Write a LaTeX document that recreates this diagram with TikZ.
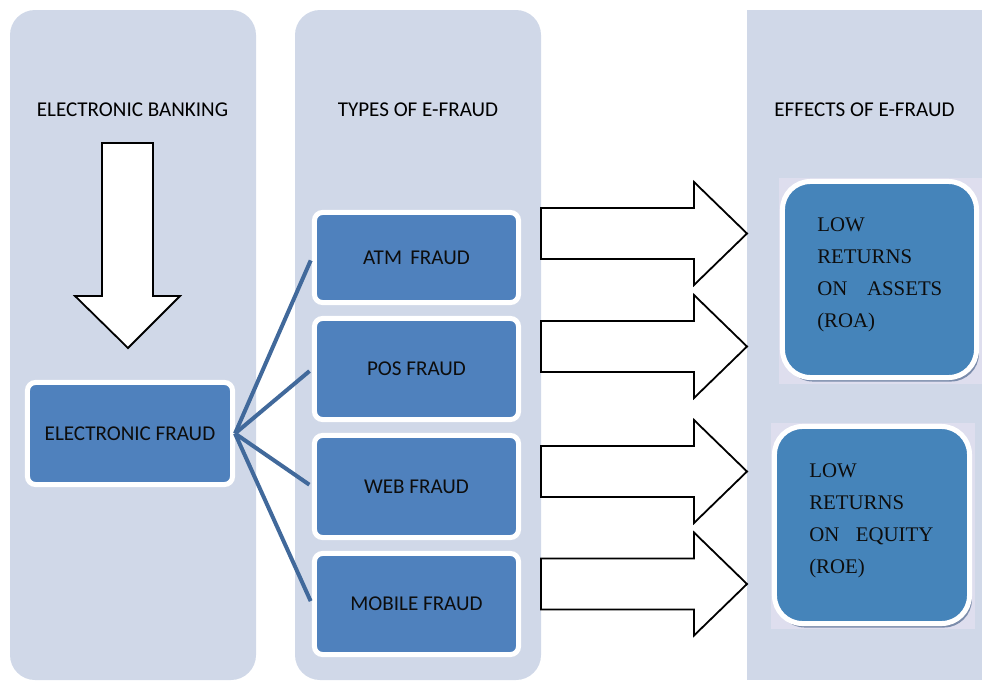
\documentclass[tikz,border=0pt]{standalone}
\usepackage{fontspec}
\setmainfont{Carlito}
\newfontfamily\effectfont{Liberation Serif}
\usetikzlibrary{positioning, shadows}
\definecolor{panel}{HTML}{D0D8E8}
\definecolor{boxblue}{HTML}{4F81BD}
\definecolor{effblue}{HTML}{4584BA}
\definecolor{backing}{HTML}{DEDEEE}
\definecolor{shade}{HTML}{7B8CAB}
\definecolor{linkblue}{HTML}{41699B}

\begin{document}
\begin{tikzpicture}[
  x=0.025cm, y=-0.025cm,
  font=\fontsize{15}{18}\selectfont,
  panelbox/.style={fill=panel, rounded corners=0.625cm},
  fraud/.style={fill=boxblue, draw=white, line width=0.125cm, rounded corners=0.2cm,
    minimum width=5.1cm, anchor=center, text=black!95},
  effect/.style={fill=effblue, draw=white, line width=0.125cm, rounded corners=0.7cm,
    minimum width=4.85cm, minimum height=4.9cm,
    drop shadow={shadow xshift=0.06cm, shadow yshift=-0.1cm, fill=shade, opacity=1}},
  efftext/.style={font=\effectfont\fontsize{14.8}{22.8}\selectfont, align=left,
    inner sep=0pt, anchor=north west, text=black!95},
  blockarrow/.style={draw=black, fill=white, line width=0.045cm},
  link/.style={draw=linkblue, line width=0.1cm, shorten >=0.08cm},
]
\useasboundingbox (0,0) rectangle (982,680);
% Columns
\fill[panelbox] (10,10) rectangle (256,680);
\fill[panelbox] (295,10) rectangle (541,680);
\fill[panel] (747,10) rectangle (982,680);
% Column headers
\node (hbank) at (132.5,110) {ELECTRONIC BANKING};
\node (htypes) at (418,110) {TYPES OF E-FRAUD};
\node (heffects) at (864.5,110) {EFFECTS OF E-FRAUD};
% Banking down to fraud
\draw[blockarrow] (102,143) -- (153,143) -- (153,296) -- (180,296) -- (128,348)
  -- (75,296) -- (102,296) -- cycle;
\node[fraud, minimum width=5.125cm, minimum height=2.55cm] (efraud) at (130,433.5)
  {ELECTRONIC FRAUD};
% Types of fraud
\foreach \name/\y/\h/\txt in {
  atm/257.5/2.25/ATM~\,FRAUD,
  pos/369/2.525/POS FRAUD,
  web/486.5/2.55/WEB FRAUD,
  mobile/604/2.525/MOBILE FRAUD%
}{
  \node[fraud, minimum height=\h cm] (\name) at (416.5,\y) {\txt};
  \draw[link] (efraud.east) -- (\name.west);
}
% Arrows to effects
\foreach \cy in {233.5,346.5,471.5,584}{
  \draw[blockarrow] (541,\cy-25.5) -- (694,\cy-25.5) -- (694,\cy-51.5) -- (747,\cy)
    -- (694,\cy+51.5) -- (694,\cy+25.5) -- (541,\cy+25.5) -- cycle;
}
% Effects
\fill[backing] (779,178) rectangle (982,384);
\node[effect] (roa) at (879.5,279.5) {};
\node[efftext] (roatext) at (817,217)
  {LOW\\RETURNS\\\makebox[3.125cm][s]{ON\hfill ASSETS}\\(ROA)};
\fill[backing] (771,423) rectangle (975,629);
\node[effect, minimum width=4.875cm, minimum height=4.925cm] (roe) at (872,525) {};
\node[efftext] (roetext) at (809,463)
  {LOW\\RETURNS\\\makebox[3.1cm][s]{ON\hfill EQUITY}\\(ROE)};
\end{tikzpicture}
\end{document}
